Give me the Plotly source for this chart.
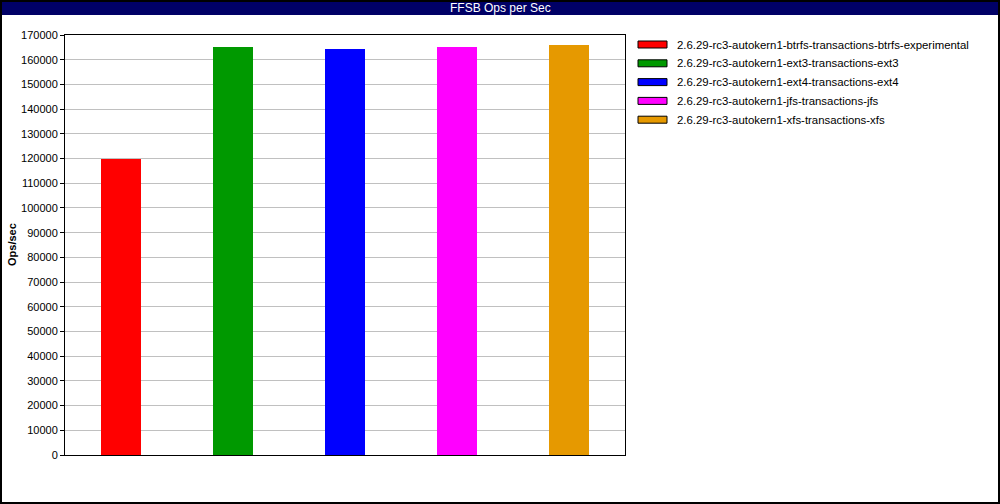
import plotly.graph_objects as go

names = [
    "2.6.29-rc3-autokern1-btrfs-transactions-btrfs-experimental",
    "2.6.29-rc3-autokern1-ext3-transactions-ext3",
    "2.6.29-rc3-autokern1-ext4-transactions-ext4",
    "2.6.29-rc3-autokern1-jfs-transactions-jfs",
    "2.6.29-rc3-autokern1-xfs-transactions-xfs",
]
values = [120000, 165200, 164400, 165200, 166000]
colors = ["#ff0000", "#009900", "#0000ff", "#ff00ff", "#e69900"]
y_ticks = list(range(0, 170001, 10000))

W, H = 1000, 504
L, R, T, B = 65, 625, 35, 455
pw, ph = R - L, B - T

def px(x):
    return (x - L) / pw

def py(y):
    return (B - y) / ph

fig = go.Figure()
fig.add_trace(go.Bar(
    x=list(range(len(names))), y=values,
    marker=dict(color=colors, line=dict(width=0)),
    width=0.357, showlegend=False, hoverinfo="y",
))

font = "Liberation Sans, DejaVu Sans, sans-serif"
shapes = []
annotations = []

# outer border and title bar
shapes.append(dict(type="rect", xref="paper", yref="paper",
                   x0=px(0), x1=px(W), y0=py(15), y1=py(0),
                   line=dict(width=0), fillcolor="#000066", layer="below"))
shapes.append(dict(type="rect", xref="paper", yref="paper",
                   x0=px(1), x1=px(W - 1), y0=py(H - 1), y1=py(1),
                   line=dict(color="black", width=2), fillcolor="rgba(0,0,0,0)", layer="below"))
annotations.append(dict(text="FFSB Ops per Sec", xref="paper", yref="paper",
                        x=px(500), y=py(7.5), xanchor="center", yanchor="middle",
                        showarrow=False, font=dict(color="white", size=12, family=font)))
annotations.append(dict(text="<b>Ops/sec</b>", xref="paper", yref="paper",
                        x=px(12), y=py(245), xanchor="center", yanchor="middle",
                        textangle=-90, showarrow=False,
                        font=dict(color="black", size=11, family=font)))

# custom legend
for i, (n, c) in enumerate(zip(names, colors)):
    cy = 44.5 + i * 18.8
    shapes.append(dict(type="rect", xref="paper", yref="paper",
                       x0=px(638), x1=px(667), y0=py(cy + 3.5), y1=py(cy - 3.5),
                       line=dict(color="black", width=1), fillcolor=c))
    annotations.append(dict(text=n, xref="paper", yref="paper",
                            x=px(675), y=py(cy), xanchor="left", yanchor="middle",
                            showarrow=False, font=dict(color="black", size=11.4, family=font)))

fig.update_layout(
    width=W, height=H,
    margin=dict(l=L, r=W - R, t=T, b=H - B, pad=0, autoexpand=False),
    paper_bgcolor="white", plot_bgcolor="white",
    shapes=shapes, annotations=annotations,
    bargap=0,
    xaxis=dict(range=[-0.5, len(names) - 0.5], showticklabels=False, ticks="",
               showgrid=False, showline=True, linecolor="black", linewidth=1,
               mirror=True, zeroline=False, fixedrange=True, automargin=False),
    yaxis=dict(range=[0, 170000], tickvals=y_ticks, ticktext=[str(v) for v in y_ticks],
               ticks="outside", ticklen=4, tickcolor="black",
               tickfont=dict(size=11, family=font, color="black"),
               showgrid=True, gridcolor="#c0c0c0", gridwidth=1,
               showline=True, linecolor="black", linewidth=1, mirror=True,
               zeroline=False, automargin=False, fixedrange=True),
    showlegend=False,
)

fig.write_html("out.html", config={"displayModeBar": False},
               post_script="document.body.style.margin='0';document.body.style.overflow='hidden';")
